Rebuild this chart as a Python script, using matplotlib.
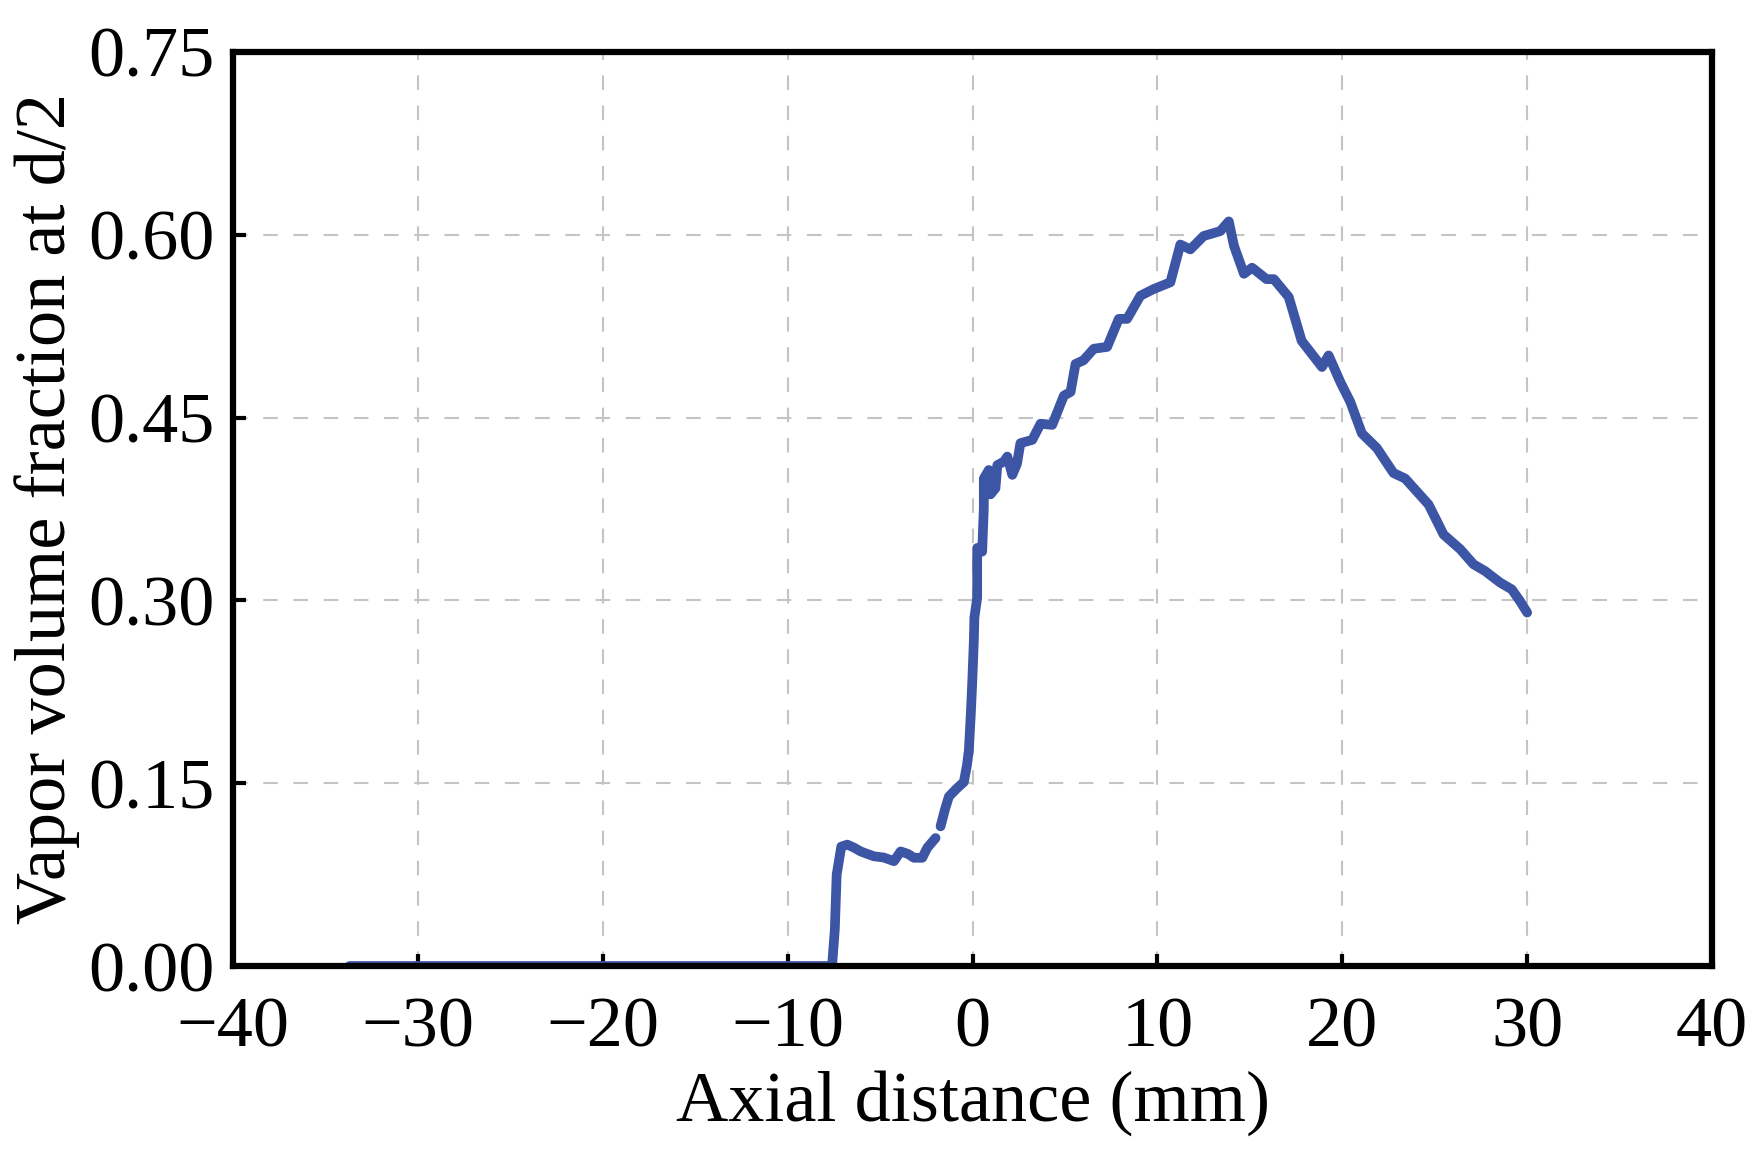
import matplotlib
matplotlib.use('Agg')
import matplotlib.pyplot as plt
import numpy as np

plt.rcParams['font.family'] = ['Liberation Serif', 'DejaVu Serif']

# axial distance (mm) and vapor volume fraction at d/2
dist = [-33.7, -7.6, -7.45, -7.35, -7.1, -6.77, -6.4, -6.05, -5.7, -5.33, -4.8,
        -4.25, -3.89, -3.5, -3.17, -2.72, -2.45, -2.0, np.nan,
        -1.73, -1.5, -1.28, -0.9, -0.47, -0.3, -0.2, -0.1, -0.02, 0.07, 0.1,
        0.25, 0.25, 0.52, 0.61, 0.61, 0.88, 0.97, 1.24, 1.34, 1.70, 1.88,
        2.15, 2.4, 2.59, 3.23, 3.68, 4.31, 4.94, 5.30, 5.57, 6.0, 6.56, 7.28,
        7.91, 8.36, 9.08, 9.80, 10.70, 11.24, 11.78, 12.5, 13.4, 13.86, 14.14,
        14.68, 15.12, 15.9, 16.3, 17.1, 17.8, 18.9, 19.26, 19.9, 20.43, 21.06,
        21.87, 22.77, 23.4, 24.67, 25.48, 26.38, 27.1, 27.73, 28.54, 29.17,
        29.6, 30.0]
vapor = [0.0, 0.0, 0.03, 0.075, 0.098, 0.0996, 0.097, 0.094, 0.092, 0.090, 0.089,
         0.086, 0.094, 0.092, 0.0888, 0.0888, 0.097, 0.105, np.nan,
         0.1146, 0.128, 0.139, 0.145, 0.151, 0.165, 0.177, 0.205, 0.2316, 0.267, 0.286,
         0.302, 0.343, 0.340, 0.376, 0.400, 0.407, 0.387, 0.392, 0.411, 0.414, 0.418,
         0.403, 0.412, 0.429, 0.4317, 0.445, 0.444, 0.468, 0.471, 0.494, 0.497, 0.5065, 0.508,
         0.531, 0.531, 0.550, 0.5555, 0.561, 0.592, 0.588, 0.599, 0.603, 0.611, 0.591,
         0.568, 0.573, 0.5636, 0.5636, 0.549, 0.513, 0.4915, 0.501, 0.479, 0.463, 0.437,
         0.425, 0.4045, 0.400, 0.3786, 0.354, 0.342, 0.3296, 0.324, 0.3146, 0.309,
         0.2997, 0.290]

xticks = [-40, -30, -20, -10, 0, 10, 20, 30, 40]
yticks = [0.00, 0.15, 0.30, 0.45, 0.60, 0.75]

fig = plt.figure(figsize=(17.59, 11.5), dpi=100)
ax = fig.add_axes([0.1325, 0.16, 0.8408, 0.7948])

ax.plot(dist, vapor, color='#3d55a5', lw=7, solid_joinstyle='round',
        solid_capstyle='round')

ax.set_xlim(-40, 40)
ax.set_ylim(0, 0.75)
ax.set_xticks(xticks)
ax.set_yticks(yticks)
ax.set_yticklabels(['%.2f' % v for v in yticks])
ax.grid(True, color='#c4c4c4', lw=1.5, linestyle=(0, (7, 7.5)))
ax.set_axisbelow(True)

ax.tick_params(direction='in', length=9, width=3, labelsize=52)
ax.tick_params(axis='y', pad=13)
ax.tick_params(axis='x', pad=22)
for s in ax.spines.values():
    s.set_linewidth(4.5)

ax.set_xlabel('Axial distance (mm)', fontsize=52, labelpad=6)
ax.set_ylabel('Vapor volume fraction at d/2', fontsize=52, labelpad=6)

fig.savefig('out.png', dpi=100)
